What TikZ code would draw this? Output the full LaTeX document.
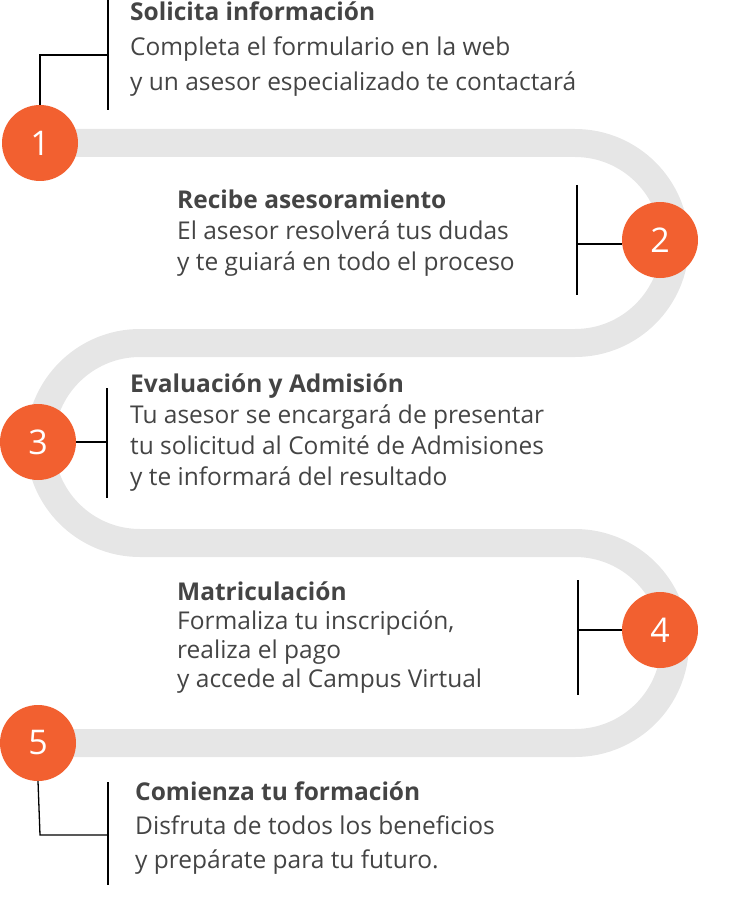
\documentclass[tikz,border=0pt]{standalone}
\usepackage{fontspec}
\setmainfont{Open Sans}
\definecolor{org}{HTML}{F26030}
\definecolor{band}{HTML}{E6E6E6}
\definecolor{txt}{HTML}{444444}
\begin{document}
\begin{tikzpicture}[x=1pt,y=-1pt,
  num/.style={circle,fill=org,minimum size=76pt,inner sep=0pt,text=white,font=\fontsize{34}{34}\selectfont},
  lbl/.style={anchor=north west,align=left,inner sep=0pt,text=txt,font=\fontsize{24.5}{31}\selectfont},
  conn/.style={line width=1.3pt,black}]
\useasboundingbox (0,0) rectangle (748,912);
\draw[band,line width=28pt] (40,143) -- (575,143)
  .. controls (630.2,143) and (675,187.8) .. (675,243)
  .. controls (675,298.2) and (630.2,343) .. (575,343) -- (140,343)
  .. controls (84.8,343) and (40,387.8) .. (40,443)
  .. controls (40,498.2) and (84.8,543) .. (140,543) -- (575,543)
  .. controls (630.2,543) and (675,587.8) .. (675,643)
  .. controls (675,698.2) and (630.2,743) .. (575,743) -- (40,743);
\node[num] (c1) at (40,143) {1};
\node[num] (c2) at (660,240) {2};
\node[num] (c3) at (38,442) {3};
\node[num] (c4) at (660,630) {4};
\node[num] (c5) at (38,743) {5};
\coordinate (v1a) at (108,0); \coordinate (v1b) at (108,110);
\draw[conn] (v1a) -- (v1b);
\draw[conn] (c1.north) -- (40,55) -- (108,55);
\coordinate (v2a) at (577,185); \coordinate (v2b) at (577,295);
\draw[conn] (v2a) -- (v2b);
\draw[conn] (577,244) -- (c2.west |- 0,244);
\coordinate (v3a) at (107,388); \coordinate (v3b) at (107,498);
\draw[conn] (v3a) -- (v3b);
\draw[conn] (c3.east) -- (107,442);
\coordinate (v4a) at (578,580); \coordinate (v4b) at (578,695);
\draw[conn] (v4a) -- (v4b);
\draw[conn] (578,630) -- (c4.west);
\coordinate (v5a) at (108,782); \coordinate (v5b) at (108,885);
\draw[conn] (v5a) -- (v5b);
\draw[conn] (c5.south) -- (40,835) -- (108,835);
\node[lbl,font=\fontsize{24.5}{35}\selectfont] (t1) at (130,2) {\textbf{Solicita información}\\Completa el formulario en la web\\y un asesor especializado te contactará};
\node[lbl] (t2) at (177,190) {\textbf{Recibe asesoramiento}\\El asesor resolverá tus dudas\\y te guiará en todo el proceso};
\node[lbl] (t3) at (130,374) {\textbf{Evaluación y Admisión}\\Tu asesor se encargará de presentar\\tu solicitud al Comité de Admisiones\\y te informará del resultado};
\node[lbl,font=\fontsize{24.5}{29}\selectfont] (t4) at (177,582) {\textbf{Matriculación}\\Formaliza tu inscripción,\\realiza el pago\\y accede al Campus Virtual};
\node[lbl,font=\fontsize{24.5}{34}\selectfont] (t5) at (135,782) {\textbf{Comienza tu formación}\\Disfruta de todos los beneficios\\y prepárate para tu futuro.};
\end{tikzpicture}
\end{document}
